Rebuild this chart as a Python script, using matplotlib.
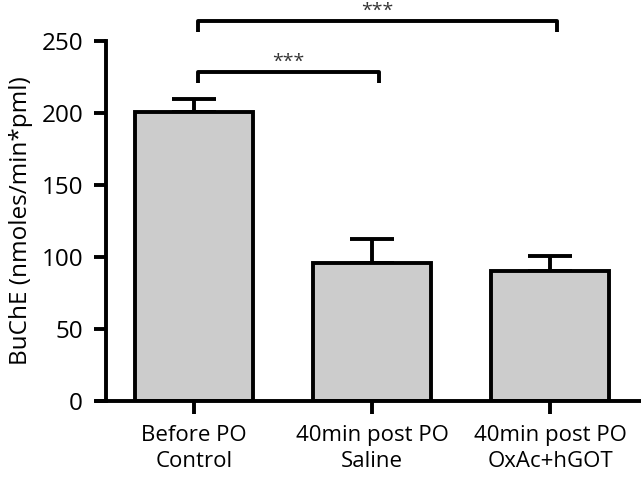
import matplotlib
matplotlib.use("Agg")
import matplotlib.pyplot as plt
from matplotlib.lines import Line2D

categories = ["Before PO\nControl", "40min post PO\nSaline", "40min post PO\nOxAc+hGOT"]
means = [201, 96, 90]
errors = [9, 16.5, 11]
yticks = [0, 50, 100, 150, 200, 250]
# significance brackets: (from index, to index, bar height, label)
brackets = [(0, 1, 228.5, "***"), (0, 2, 264, "***")]

plt.rcParams['font.family'] = ['Open Sans', 'DejaVu Sans']

fig = plt.figure(figsize=(6.41, 4.80), dpi=100)
ax = fig.add_axes([106/641, 1-401/480, 535/641, 360/480])

x = list(range(len(categories)))
lw = 2.8
ax.bar(x, means, width=0.66, color="#cccccc", edgecolor="black", linewidth=lw, zorder=2)
ax.errorbar(x, means, yerr=[[0]*len(errors), errors], fmt="none", ecolor="black",
            elinewidth=lw, capsize=15.5, capthick=lw, zorder=1)

ax.set_xlim(-0.494, 2.51)
ax.set_ylim(0, 250)
ax.set_yticks(yticks)
ax.set_xticks(x)
ax.set_xticklabels(categories, fontsize=16, linespacing=1.32)
ax.tick_params(axis='y', labelsize=17.5, width=lw, length=8.5, pad=8)
ax.tick_params(axis='x', width=lw, length=9.5, pad=8)
ax.spines['top'].set_visible(False)
ax.spines['right'].set_visible(False)
ax.spines['left'].set_linewidth(lw)
ax.spines['bottom'].set_visible(False)
ax.add_line(Line2D([-11/535, 1], [0, 0], transform=ax.transAxes, color="black",
                   linewidth=lw, clip_on=False, solid_capstyle='butt'))
ax.set_ylabel("BuChE (nmoles/min*pml)", fontsize=17.5, labelpad=6)

drop = 8
for i, j, h, lab in brackets:
    x0 = x[i] + 0.02
    x1 = x[j] + 0.04
    ax.plot([x0, x0, x1, x1], [h-drop, h, h, h-drop],
            color="black", linewidth=lw, clip_on=False, solid_capstyle='butt')
    ax.text((x0+x1)/2, h+1, lab, ha="center", va="bottom", fontsize=14,
            color="#333333", clip_on=False)

fig.savefig("out.png", dpi=100)
